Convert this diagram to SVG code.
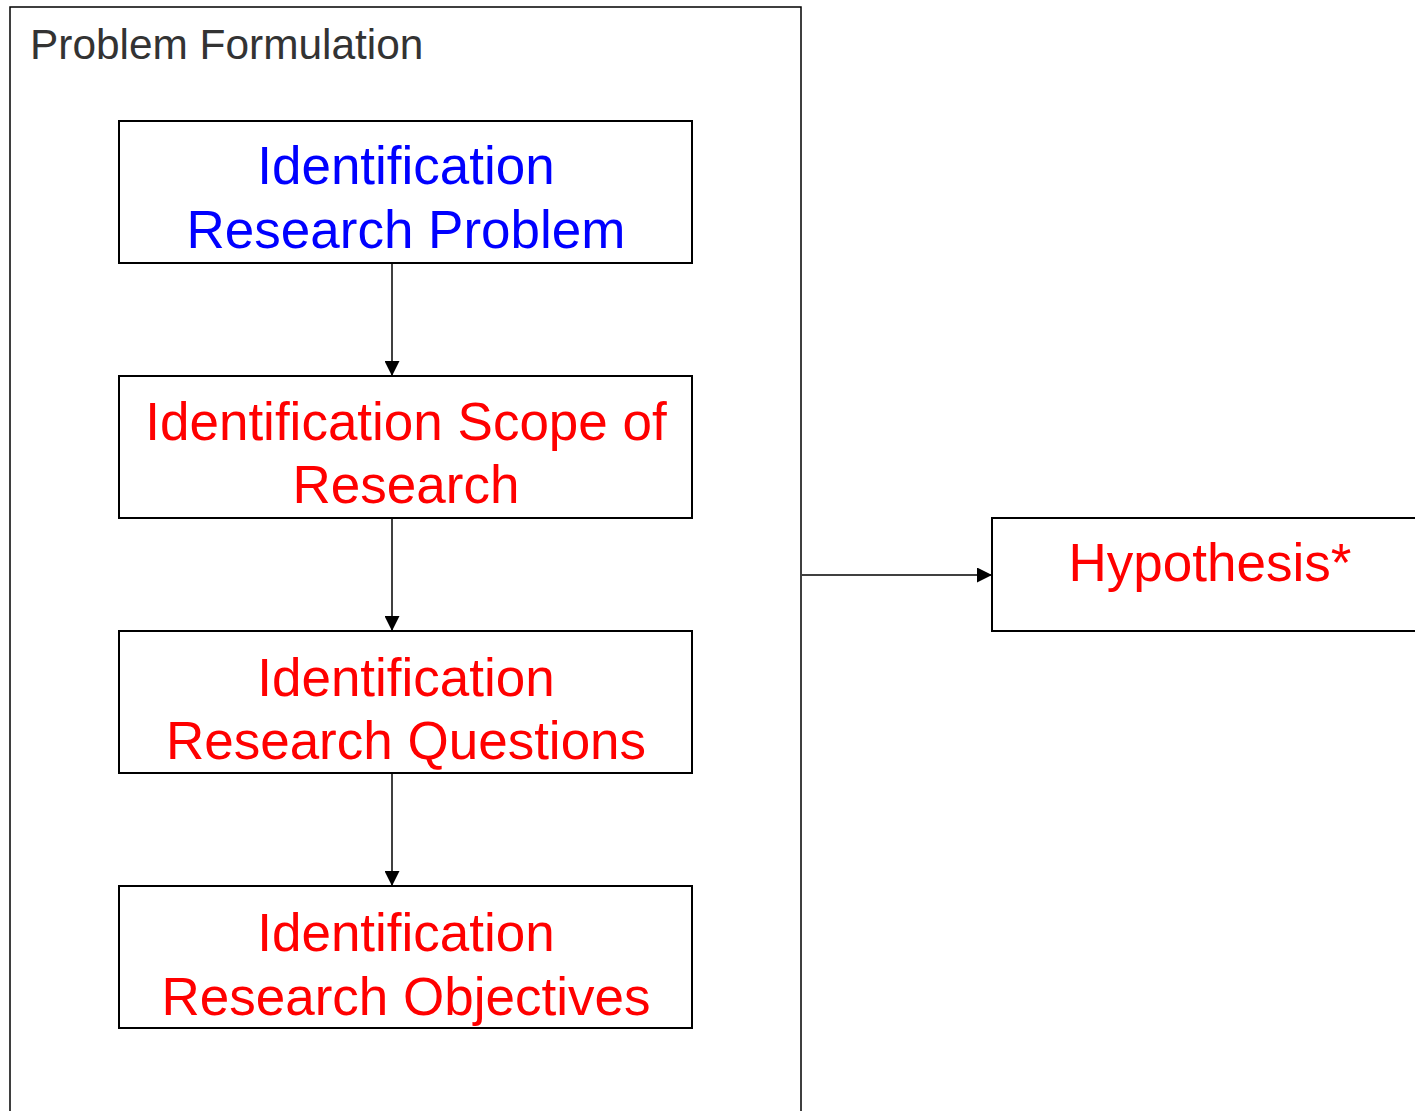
<svg xmlns="http://www.w3.org/2000/svg" width="1415" height="1111" viewBox="0 0 1415 1111">
<style>
.box{fill:#fff;stroke:#000;stroke-width:2}
.t{font-family:"Liberation Sans",Arial,sans-serif;font-size:53px;text-anchor:middle}
.blue{fill:#0000ff}
.red{fill:#ff0000}
.conn{stroke:#000;stroke-width:1.5;fill:none}
</style>
<defs>
<marker id="arr" markerWidth="15" markerHeight="15" refX="15" refY="7.5" orient="auto" markerUnits="userSpaceOnUse">
<path d="M0,0 L15,7.5 L0,15 Z" fill="#000"/>
</marker>
</defs>
<g id="frame">
<path d="M10,1115 L10,7 L801,7 L801,1115" fill="#fff" stroke="#000" stroke-width="1.5"/>
<text x="30" y="59" font-family="'Liberation Sans',Arial,sans-serif" font-size="42.4" fill="#333">Problem Formulation</text>
</g>
<g id="connectors">
<line class="conn" x1="392" y1="263" x2="392" y2="376" marker-end="url(#arr)"/>
<line class="conn" x1="392" y1="518" x2="392" y2="631" marker-end="url(#arr)"/>
<line class="conn" x1="392" y1="773" x2="392" y2="886" marker-end="url(#arr)"/>
<line class="conn" x1="802" y1="575" x2="992" y2="575" marker-end="url(#arr)"/>
</g>
<g id="node-problem">
<rect class="box" x="119" y="121" width="573" height="142"/>
<text class="t blue" x="406" y="184">Identification</text>
<text class="t blue" x="406" y="248">Research Problem</text>
</g>
<g id="node-scope">
<rect class="box" x="119" y="376" width="573" height="142"/>
<text class="t red" x="406" y="440">Identification Scope of</text>
<text class="t red" x="406" y="503">Research</text>
</g>
<g id="node-questions">
<rect class="box" x="119" y="631" width="573" height="142"/>
<text class="t red" x="406" y="696">Identification</text>
<text class="t red" x="406" y="759">Research Questions</text>
</g>
<g id="node-objectives">
<rect class="box" x="119" y="886" width="573" height="142"/>
<text class="t red" x="406" y="951">Identification</text>
<text class="t red" x="406" y="1015">Research Objectives</text>
</g>
<g id="node-hypothesis">
<rect class="box" x="992" y="518" width="440" height="113"/>
<text class="t red" x="1210" y="581">Hypothesis*</text>
</g>
</svg>
